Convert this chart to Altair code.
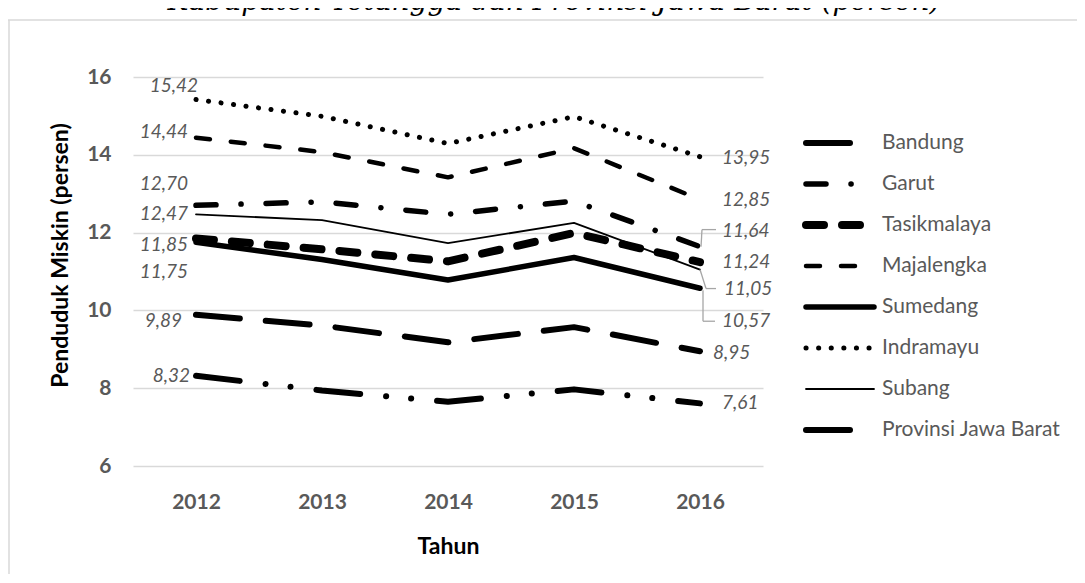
import altair as alt
import pandas as pd

# ---------------- data ----------------
years = ["2012", "2013", "2014", "2015", "2016"]
series_names = ["Bandung", "Garut", "Tasikmalaya", "Majalengka", "Sumedang",
                "Indramayu", "Subang", "Provinsi Jawa Barat"]
bandung = [8.32, 7.94, 7.65, 7.97, 7.61]
garut = [12.70, 12.79, 12.47, 12.81, 11.64]
tasikmalaya = [11.85, 11.57, 11.26, 11.99, 11.24]
majalengka = [14.44, 14.07, 13.42, 14.17, 12.85]
sumedang = [11.75, 11.31, 10.78, 11.36, 10.57]
indramayu = [15.42, 14.99, 14.29, 14.98, 13.95]
subang = [12.47, 12.32, 11.73, 12.25, 11.05]
jawa_barat = [9.89, 9.61, 9.18, 9.57, 8.95]
y_ticks = [6, 8, 10, 12, 14, 16]
title_text = "Kabupaten Tetangga dan Provinsi Jawa Barat (persen)"
x_title = "Tahun"
y_title = "Penduduk Miskin (persen)"

values = {
    "Bandung": bandung, "Garut": garut, "Tasikmalaya": tasikmalaya,
    "Majalengka": majalengka, "Sumedang": sumedang, "Indramayu": indramayu,
    "Subang": subang, "Provinsi Jawa Barat": jawa_barat,
}
rows = []
for s in series_names:
    for yr, v in zip(years, values[s]):
        rows.append({"series": s, "year": yr, "value": v,
                     "label": f"{v:.2f}".replace(".", ",")})
df = pd.DataFrame(rows)

# ---------------- styles ----------------
STYLE = {
    "Bandung": (6, [44, 26, 0.1, 25, 0.1, 26]),
    "Garut": (5.5, [20, 25, 0.1, 25]),
    "Tasikmalaya": (8, [18, 18]),
    "Majalengka": (4.5, [14, 21]),
    "Sumedang": (5.5, None),
    "Indramayu": (5, [0.1, 12.5]),
    "Subang": (1.8, None),
    "Provinsi Jawa Barat": (6, [44, 26]),
}
LEFT_NUDGE = {"Indramayu": (2, -14), "Majalengka": (-8, -6), "Garut": (-8, -21),
              "Subang": (-8, 0), "Tasikmalaya": (-8, 7), "Sumedang": (-8, 30),
              "Provinsi Jawa Barat": (-14, 6), "Bandung": (-6, 0)}
RIGHT_NUDGE = {"Indramayu": (22, 1), "Majalengka": (22, 0), "Garut": (22, -16),
               "Tasikmalaya": (22, 0), "Subang": (24, 19), "Sumedang": (22, 33),
               "Provinsi Jawa Barat": (13, 2), "Bandung": (22, 0)}

GRAY = "#595959"
FONT = "Lato"

x_enc = alt.X("year:O", scale=alt.Scale(type="point", domain=years, padding=0.5),
              axis=alt.Axis(title=x_title, labelAngle=0, domain=False, ticks=False,
                            grid=False, labelFont=FONT, labelFontWeight="bold",
                            labelFontSize=21, labelColor=GRAY, labelPadding=25,
                            titleFont=FONT, titleFontSize=23, titleFontWeight="bold",
                            titleColor="black", titleY=80, titleBaseline="middle"))
y_enc = alt.Y("value:Q", scale=alt.Scale(domain=[6, 16], nice=False, zero=False),
              axis=alt.Axis(values=y_ticks, title=y_title, domain=False, ticks=False,
                            grid=True, gridColor="#d9d9d9", gridWidth=1.5,
                            labelFont=FONT, labelFontWeight="bold", labelFontSize=21,
                            labelColor=GRAY, labelPadding=22,
                            titleFont=FONT, titleFontSize=23, titleFontWeight="bold",
                            titleColor="black", titleAngle=270, titleX=-73, titleY=178,
                            titleAlign="center", titleBaseline="middle"))

base = alt.Chart(df)
layers = []

# frame lines (decoration)
frame = alt.Chart(pd.DataFrame({"a": [0]}))
layers.append(frame.mark_rule(color="#d9d9d9", strokeWidth=1.5).encode(
    x=alt.value(-125), x2=alt.value(944), y=alt.value(-57)))
layers.append(frame.mark_rule(color="#d9d9d9", strokeWidth=1.5).encode(
    x=alt.value(-124), y=alt.value(-57), y2=alt.value(497)))
# cut-off title, as in the reference
layers.append(alt.Chart(pd.DataFrame({"t": [title_text]})).mark_text(
    font="DejaVu Serif", fontStyle="italic", fontSize=28, color="black",
    align="center", baseline="alphabetic").encode(
    text="t:N", x=alt.value(421), y=alt.value(-67)))

for s in series_names:
    w, dash = STYLE[s]
    kw = dict(color="black", strokeWidth=w, strokeCap="round", strokeJoin="round")
    if dash:
        kw["strokeDash"] = dash
    layers.append(base.transform_filter(alt.datum.series == s).mark_line(**kw).encode(
        x=x_enc, y=y_enc))

# leader lines
lead_kw = dict(color="#a6a6a6", strokeWidth=1.3)
last = base.transform_filter(alt.datum.year == "2016")
def seg(s, xo, x2o, yo, y2o):
    return last.transform_filter(alt.datum.series == s).mark_rule(
        xOffset=xo, x2Offset=x2o, yOffset=yo, y2Offset=y2o, **lead_kw).encode(
        x=x_enc, x2="year:O", y=y_enc, y2="value:Q")
layers += [seg("Garut", 1, 2, 0, -17), seg("Garut", 2, 16, -17, -17),
           seg("Subang", 0, 6, 0, 19), seg("Subang", 6, 16, 19, 19),
           seg("Sumedang", 3, 3, 2, 33), seg("Sumedang", 3, 15, 33, 33)]

# data labels
for s in series_names:
    dx, dy = LEFT_NUDGE[s]
    layers.append(base.transform_filter(
        (alt.datum.series == s) & (alt.datum.year == "2012")).mark_text(
        align="right", baseline="middle", dx=dx, dy=dy, font=FONT, fontStyle="italic",
        fontSize=19, color=GRAY).encode(x=x_enc, y=y_enc, text="label:N"))
    dx, dy = RIGHT_NUDGE[s]
    layers.append(base.transform_filter(
        (alt.datum.series == s) & (alt.datum.year == "2016")).mark_text(
        align="left", baseline="middle", dx=dx, dy=dy, font=FONT, fontStyle="italic",
        fontSize=19, color=GRAY).encode(x=x_enc, y=y_enc, text="label:N"))

main = alt.layer(*layers)

# legend (drawn as marks)
leg_df = pd.DataFrame({"series": series_names})
leg_y = alt.Y("series:N", scale=alt.Scale(type="point", domain=series_names,
                                          range=[66, 353], padding=0), axis=None)
leg_layers = []
for s in series_names:
    w, dash = STYLE[s]
    kw = dict(color="black", strokeWidth=w, strokeCap="round")
    if dash:
        kw["strokeDash"] = dash
    leg_layers.append(alt.Chart(leg_df).transform_filter(alt.datum.series == s)
                      .mark_rule(**kw).encode(x=alt.value(673), x2=alt.value(741), y=leg_y))
leg_layers.append(alt.Chart(leg_df).mark_text(
    align="left", baseline="middle", font=FONT, fontSize=21, color=GRAY).encode(
    x=alt.value(749), y=leg_y, text="series:N"))
legend = alt.layer(*leg_layers)

chart = alt.layer(main, legend).resolve_scale(y="independent").properties(
    width=630, height=389,
    padding={"left": 125, "top": 69, "right": 314, "bottom": 108},
    autosize=alt.AutoSizeParams(type="none"),
    background="white",
).configure_view(stroke=None)

chart.save("out.html", embed_options={"renderer": "svg", "actions": False})
